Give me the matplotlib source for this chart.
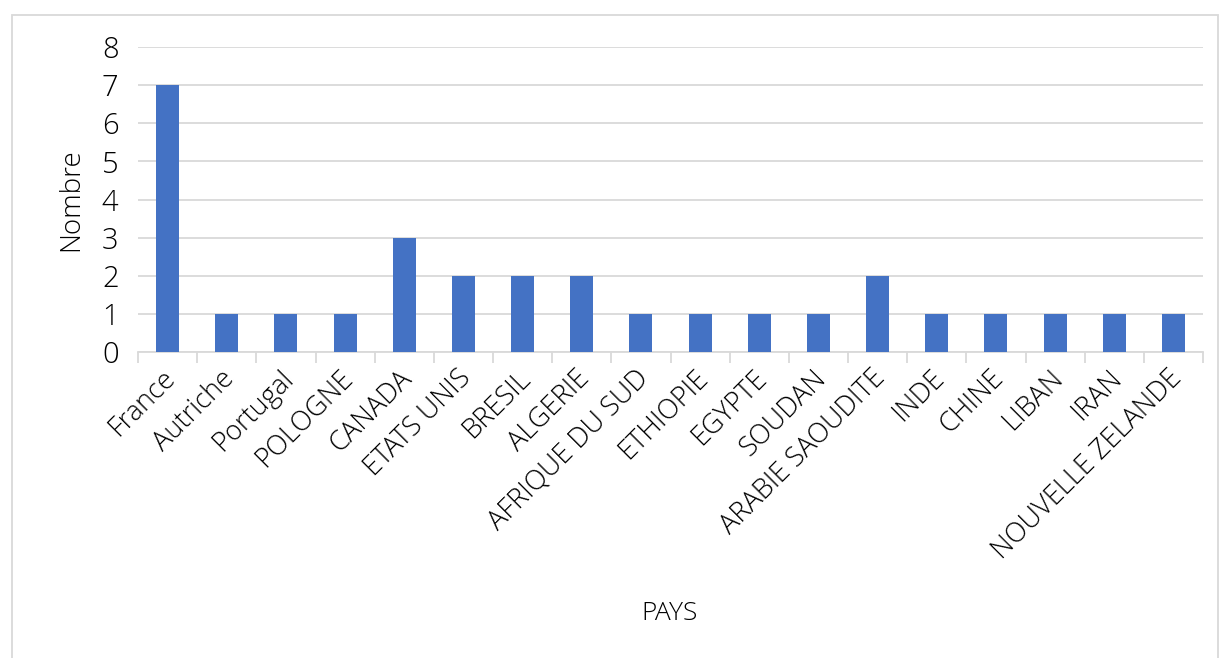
import matplotlib.pyplot as plt
import matplotlib.transforms as mtransforms
import numpy as np
from matplotlib.patches import Rectangle

pays = ['France', 'Autriche', 'Portugal', 'POLOGNE', 'CANADA', 'ETATS UNIS',
        'BRESIL', 'ALGERIE', 'AFRIQUE DU SUD', 'ETHIOPIE', 'EGYPTE', 'SOUDAN',
        'ARABIE SAOUDITE', 'INDE', 'CHINE', 'LIBAN', 'IRAN', 'NOUVELLE ZELANDE']
nombre = [7, 1, 1, 1, 3, 2, 2, 2, 1, 1, 1, 1, 2, 1, 1, 1, 1, 1]

plt.rcParams['font.family'] = ['Open Sans', 'DejaVu Sans']
plt.rcParams['font.weight'] = 'light'
grid_col = '#D9D9D9'

fig = plt.figure(figsize=(12.2, 6.58), dpi=100)
ax = fig.add_axes([138 / 1220, 1 - 352 / 658, (1203 - 138) / 1220, (352 - 47) / 658])

x = np.arange(len(pays))
ax.bar(x, nombre, width=0.39, color='#4472C4', zorder=3)

ax.set_xlim(-0.5, len(pays) - 0.5)
ax.set_ylim(0, 8)
ax.set_yticks(range(0, 9))
ax.yaxis.grid(True, color=grid_col, linewidth=1.3, zorder=0)
for s in ['top', 'right', 'left']:
    ax.spines[s].set_visible(False)
ax.spines['bottom'].set_color(grid_col)
ax.spines['bottom'].set_linewidth(1.3)

ax.tick_params(axis='y', length=0, labelsize=21, pad=14)
ax.set_xticks(x)
ax.set_xticklabels(pays, rotation=45, ha='right', va='top', rotation_mode='anchor', fontsize=19.5)
ax.tick_params(axis='x', length=0, pad=9)
shift = mtransforms.ScaledTranslation(-6 / 100, 0, fig.dpi_scale_trans)
for lab in ax.get_xticklabels():
    lab.set_transform(lab.get_transform() + shift)
ax.set_xticks(np.arange(-0.5, len(pays)), minor=True)
ax.tick_params(axis='x', which='minor', length=8, color=grid_col, width=1.3)

ax.set_ylabel('Nombre', fontsize=20, fontweight='light', labelpad=12)
fig.text(670 / 1220, 1 - 613 / 658, 'PAYS', fontsize=19, ha='center', va='center')

fig.patches.append(Rectangle((12 / 1220, -0.01), 1206 / 1220, 1 - 15 / 658 + 0.01,
                             transform=fig.transFigure, fill=False,
                             edgecolor=grid_col, linewidth=1.3))

fig.savefig('out.png', dpi=100)
